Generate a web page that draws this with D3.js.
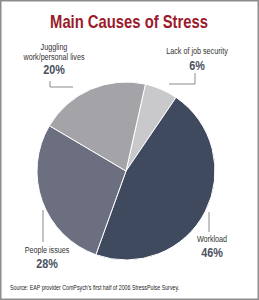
<!DOCTYPE html>
<html>
<head>
<meta charset="utf-8">
<script src="https://cdn.jsdelivr.net/npm/d3@7"></script>
<style>
  html, body { margin: 0; padding: 0; background: #fff; }
  svg { display: block; }
</style>
</head>
<body>
<svg id="chart" width="259" height="300"></svg>
<script>
const categories = ["Lack of job security", "Workload", "People issues", "Juggling work/personal lives"];
const values = [6, 46, 28, 20];
const valueLabels = ["6%", "46%", "28%", "20%"];
const colors = ["#c9c9cc", "#3f4a5e", "#6b6f80", "#a3a3a8"];
const title = "Main Causes of Stress";
const source = "Source: EAP provider ComPsych's first half of 2006 StressPulse Survey.";

// layout (not data)
const labelLayout = [
  { lines: ["Lack of job security"], x: 197, y: 54, py: 70, leader: [[195, 73], [195, 84], [169, 84]] },
  { lines: ["Workload"], x: 212, y: 242, py: 257, leader: [[209, 212], [209, 232]] },
  { lines: ["People issues"], x: 47, y: 253, py: 268, leader: [[43, 210], [43, 242]] },
  { lines: ["Juggling", "work/personal lives"], x: 54, y: 50, py: 74, leader: [[50, 81], [50, 87], [73, 87]] }
];

const svg = d3.select("#chart");
const W = 259, H = 300;
const font = "'Liberation Sans', Arial, sans-serif";
const CONDENSE = 0.8;

function ctext(x, y, str, size, weight, fill, sx) {
  const t = svg.append("text")
    .attr("transform", `translate(${x},${y}) scale(${sx},1)`)
    .attr("text-anchor", "middle")
    .attr("font-family", font).attr("font-size", size).attr("font-weight", weight)
    .attr("fill", fill).text(str);
  return t;
}

svg.append("rect").attr("x", 0.75).attr("y", 0.75).attr("width", W - 1.5).attr("height", H - 1.5)
  .attr("fill", "#fff").attr("stroke", "#8c8c8c").attr("stroke-width", 1.5);

ctext(129, 27.5, title, 18.5, "bold", "#9b1b2c", 0.8);

const cx = 126, cy = 171, r = 89;
const start = 0.22;
const pie = d3.pie().sort(null).value(d => d).startAngle(start).endAngle(start + 2 * Math.PI);
const arc = d3.arc().innerRadius(0).outerRadius(r);

const g = svg.append("g").attr("transform", `translate(${cx},${cy})`);
g.selectAll("path").data(pie(values)).join("path")
  .attr("d", arc)
  .attr("fill", (d, i) => colors[i])
  .attr("stroke", "#fff").attr("stroke-width", 1);

labelLayout.forEach((L, i) => {
  L.lines.forEach((ln, k) => {
    ctext(L.x, L.y + k * 9.5, ln, 9, "normal", "#333", CONDENSE);
  });
  ctext(L.x, L.py, valueLabels[i], 12, "bold", "#4a5060", 0.9);
  svg.append("path").attr("d", d3.line()(L.leader))
    .attr("fill", "none").attr("stroke", "#8a8a8e").attr("stroke-width", 1);
});

svg.append("text").attr("transform", "translate(10,290) scale(0.78,1)")
  .attr("font-family", font).attr("font-size", 6.8).attr("fill", "#222")
  .text(source);
</script>
</body>
</html>
